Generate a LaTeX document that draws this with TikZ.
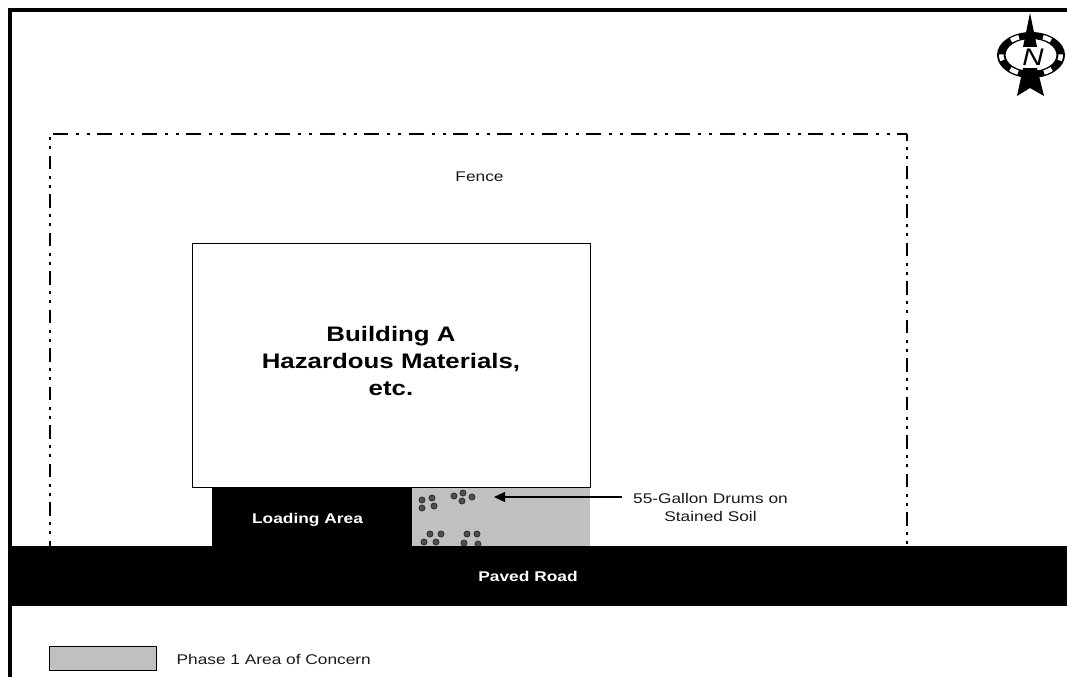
\documentclass[tikz,border=0pt]{standalone}
\usepackage{fontspec}
\setmainfont{Liberation Sans}[FakeStretch=1.23]
\definecolor{areagray}{HTML}{C0C0C0}
\definecolor{drumgray}{HTML}{505050}
\usetikzlibrary{arrows.meta}
\tikzset{
  px/.style={x=1pt,y=-1pt},
  fenceline/.style={draw=black,line width=1.6pt},
  fenceh/.style={fenceline,dash pattern=on 15pt off 8pt on 3pt off 8pt on 3pt off 7.44pt},
  fencev/.style={fenceline,dash pattern=on 13.5pt off 6.5pt on 3pt off 6pt on 3pt off 6.5pt},
  small/.style={font=\fontsize{14.05pt}{18pt}\selectfont,align=center,inner sep=0pt,text=black!90},
  whitebold/.style={font=\fontsize{14.1pt}{16pt}\selectfont\bfseries,text=white,inner sep=0pt},
  drum/.style={circle,draw=black!80,fill=drumgray,line width=.9pt,minimum width=6pt,inner sep=0pt},
  solidblack/.style={fill=black,draw=none,inner sep=0pt}
}
\begin{document}
\begin{tikzpicture}[px]
\useasboundingbox (0,0) rectangle (1067,677);
\fill[white] (0,0) rectangle (1067,677);
% frame
\fill[black] (8,8) rectangle (1067,12);
\fill[black] (8,8) rectangle (12,677);
% fence
\coordinate (fencesw) at (50,546);
\coordinate (fencenw) at (50,134);
\coordinate (fencene) at (907,134);
\coordinate (fencese) at (907,546);
\draw[fenceh] ([xshift=3pt]fencenw) -- (fencene);
\draw[fencev,dash phase=17pt] (fencenw) -- (fencesw);
\draw[fencev,dash phase=7pt] (fencene) -- (fencese);
\node[small] (fencelabel) at (479.5,177) {Fence};
% gray area and loading
\fill[areagray] (412,487) rectangle (590,546);
\node[solidblack,minimum width=200pt,minimum height=59pt,anchor=north west] (loading) at (212,487) {};
\node[whitebold] (loadinglabel) at (307.5,520) {Loading Area};
% building
\node[draw=black,line width=1.2pt,fill=white,minimum width=398pt,minimum height=244pt,inner sep=0pt,anchor=north west] (building) at (192,243) {};
\node[align=center,font=\fontsize{21pt}{27pt}\selectfont\bfseries,inner sep=0pt] (buildinglabel) at (391,361) {Building A\\Hazardous Materials,\\etc.};
% drums
\foreach \p [count=\i] in {(422,500),(432,498),(422,508),(434,506),(454,496),(463,493),(472,497),(462,501),(430,534),(441,534),(424,542),(436,542),(467,534),(477,534),(464,543),(478,544)}
  \node[drum] (drum\i) at \p {};
% road
\node[solidblack,minimum width=1057pt,minimum height=60pt,anchor=north west] (road) at (10,546) {};
\node[whitebold] (roadlabel) at (528,576) {Paved Road};
% arrow
\coordinate (arrowtip) at (494,497);
\node[small] (drumlabel) at (710.5,507) {55-Gallon Drums on\\Stained Soil};
\coordinate (arrowstart) at (622,497);
\draw[line width=1.1pt,-{Triangle[length=11pt,width=10pt]}] (arrowstart) -- (arrowtip);
% legend
\node[draw=black,line width=1.1pt,fill=areagray,minimum width=107pt,minimum height=24pt,inner sep=0pt,anchor=north west] (legendbox) at (49,646) {};
\node[small,anchor=west] (legendlabel) at (176.5,659) {Phase 1 Area of Concern};
% north arrow
\fill[black,even odd rule] (1031,55) ellipse [x radius=34,y radius=23] (1031,55) ellipse [x radius=25.5,y radius=16];
\foreach \t in {57,123,187,235,-55,-7}
  \draw[white,line width=4.5pt] plot[smooth,domain=\t-9:\t+9,samples=9,variable=\u] ({1031+29.7*cos(\u)},{55-19.5*sin(\u)});
\fill[black] (1030,13) -- (1037,47) -- (1023,47) -- cycle;
\fill[black] (1023,68) -- (1037,68) -- (1044,96) -- (1030,88) -- (1017,96) -- cycle;
\node[inner sep=0pt,font=\fontsize{24pt}{24pt}\selectfont\itshape] (north) at (1033,57.5) {N};
\end{tikzpicture}
\end{document}
